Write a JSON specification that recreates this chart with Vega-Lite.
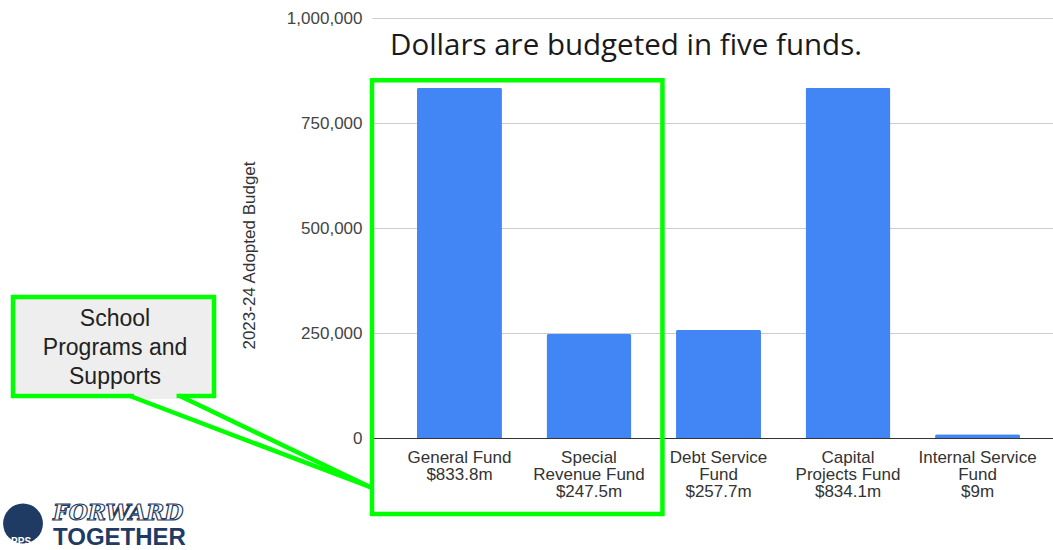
{
  "$schema": "https://vega.github.io/schema/vega-lite/v6.json",
  "width": 681,
  "height": 420,
  "autosize": {"type": "none"},
  "padding": {"left": 372, "top": 18, "right": 0, "bottom": 112},
  "background": "#ffffff",
  "config": {"view": {"stroke": null}},
  "title": {
    "text": "Dollars are budgeted in five funds.",
    "font": "Open Sans",
    "fontSize": 29.5,
    "fontWeight": "normal",
    "color": "#1a1a1a",
    "anchor": "start",
    "frame": "group",
    "orient": "top",
    "baseline": "alphabetic",
    "offset": 0,
    "dx": 18,
    "dy": 75
  },
  "datasets": {
    "funds": [
      {"fund": "General Fund|$833.8m", "budget": 833800},
      {"fund": "Special|Revenue Fund|$247.5m", "budget": 247500},
      {"fund": "Debt Service|Fund|$257.7m", "budget": 257700},
      {"fund": "Capital|Projects Fund|$834.1m", "budget": 834100},
      {"fund": "Internal Service|Fund|$9m", "budget": 9000}
    ],
    "note": [
      {
        "anchor": "General Fund|$833.8m",
        "highlightTop": 852000,
        "highlightBottom": -181000,
        "calloutTop": 335700,
        "calloutBottom": 100000,
        "tailTip": -116700,
        "calloutText": "School|Programs and|Supports",
        "calloutLine": 266700,
        "logoCenter": -203600,
        "logoLine1": -195200,
        "logoLine2": -254800,
        "ppsLine": -254800,
        "logoText1": "FORWARD",
        "logoText2": "TOGETHER",
        "ppsText": "PPS"
      }
    ]
  },
  "layer": [
    {
      "data": {"name": "funds"},
      "mark": {"type": "bar", "color": "#4285f4", "cornerRadiusTopLeft": 2, "cornerRadiusTopRight": 2},
      "encoding": {
        "x": {
          "field": "fund",
          "type": "nominal",
          "sort": null,
          "title": null,
          "scale": {
            "domain": ["General Fund|$833.8m", "Special|Revenue Fund|$247.5m", "Debt Service|Fund|$257.7m", "Capital|Projects Fund|$834.1m", "Internal Service|Fund|$9m"],
            "paddingInner": 0.344,
            "paddingOuter": 0.301,
            "align": 0.577
          },
          "axis": {
            "title": null,
            "labelAngle": 0,
            "labelExpr": "split(datum.label, '|')",
            "labelFont": "Liberation Sans",
            "labelFontSize": 17,
            "labelColor": "#333333",
            "labelLineHeight": 17,
            "labelPadding": 11,
            "labelLimit": 300,
            "labelOverlap": false,
            "ticks": false,
            "tickSize": 0,
            "domainColor": "#333333",
            "domainWidth": 1,
            "grid": false
          }
        },
        "y": {
          "field": "budget",
          "type": "quantitative",
          "title": "2023-24 Adopted Budget",
          "scale": {"domain": [0, 1000000], "nice": false},
          "axis": {
            "title": "2023-24 Adopted Budget",
            "values": [0, 250000, 500000, 750000, 1000000],
            "format": ",d",
            "ticks": false,
            "tickSize": 0,
            "domain": false,
            "labelPadding": 10,
            "labelFont": "Liberation Sans",
            "labelFontSize": 17,
            "labelColor": "#444444",
            "gridColor": "#cccccc",
            "gridWidth": 1,
            "titleFont": "Liberation Sans",
            "titleFontSize": 17,
            "titleFontWeight": "normal",
            "titleColor": "#333333",
            "titleAngle": -90,
            "titleAlign": "center",
            "titleBaseline": "bottom",
            "titleX": -114,
            "titleY": 237
          }
        }
      }
    },
    {
      "data": {"name": "note"},
      "mark": {"type": "rect", "filled": false, "color": "#00ff00", "strokeWidth": 4.5},
      "encoding": {
        "x": {"field": "anchor", "type": "nominal", "title": null, "bandPosition": -0.5296},
        "x2": {"field": "anchor", "bandPosition": 2.889},
        "y": {"field": "highlightTop", "type": "quantitative", "title": "2023-24 Adopted Budget"},
        "y2": {"field": "highlightBottom"}
      }
    },
    {
      "data": {"name": "note"},
      "mark": {"type": "rect", "fill": "#eeeeee", "stroke": "#00ff00", "strokeWidth": 4.5},
      "encoding": {
        "x": {"field": "anchor", "type": "nominal", "title": null, "bandPosition": -4.755},
        "x2": {"field": "anchor", "bandPosition": -2.389},
        "y": {"field": "calloutTop", "type": "quantitative", "title": "2023-24 Adopted Budget"},
        "y2": {"field": "calloutBottom"}
      }
    },
    {
      "data": {"name": "note"},
      "mark": {"type": "rule", "color": "#eeeeee", "strokeWidth": 6},
      "encoding": {
        "x": {"field": "anchor", "type": "nominal", "title": null, "bandPosition": -3.33},
        "x2": {"field": "anchor", "bandPosition": -2.83},
        "y": {"field": "calloutBottom", "type": "quantitative", "title": "2023-24 Adopted Budget"}
      }
    },
    {
      "data": {"name": "note"},
      "mark": {"type": "rule", "color": "#00ff00", "strokeWidth": 4.5, "strokeCap": "round"},
      "encoding": {
        "x": {"field": "anchor", "type": "nominal", "title": null, "bandPosition": -3.378},
        "x2": {"field": "anchor", "bandPosition": -0.553},
        "y": {"field": "calloutBottom", "type": "quantitative", "title": "2023-24 Adopted Budget"},
        "y2": {"field": "tailTip"}
      }
    },
    {
      "data": {"name": "note"},
      "mark": {"type": "rule", "color": "#00ff00", "strokeWidth": 4.5, "strokeCap": "round"},
      "encoding": {
        "x": {"field": "anchor", "type": "nominal", "title": null, "bandPosition": -2.789},
        "x2": {"field": "anchor", "bandPosition": -0.553},
        "y": {"field": "calloutBottom", "type": "quantitative", "title": "2023-24 Adopted Budget"},
        "y2": {"field": "tailTip"}
      }
    },
    {
      "data": {"name": "note"},
      "mark": {"type": "text", "font": "Liberation Sans", "fontSize": 23, "lineBreak": "|", "lineHeight": 29, "align": "center", "baseline": "alphabetic", "color": "#222222"},
      "encoding": {
        "x": {"field": "anchor", "type": "nominal", "title": null, "bandPosition": -3.554},
        "y": {"field": "calloutLine", "type": "quantitative", "title": "2023-24 Adopted Budget"},
        "text": {"field": "calloutText"}
      }
    },
    {
      "data": {"name": "note"},
      "mark": {"type": "point", "shape": "circle", "filled": true, "color": "#1f3b63", "size": 1590, "opacity": 1},
      "encoding": {
        "x": {"field": "anchor", "type": "nominal", "title": null, "bandPosition": -4.637},
        "y": {"field": "logoCenter", "type": "quantitative", "title": "2023-24 Adopted Budget"}
      }
    },
    {
      "data": {"name": "note"},
      "mark": {"type": "text", "font": "Liberation Sans", "fontSize": 10, "fontWeight": "bold", "align": "center", "baseline": "alphabetic", "color": "#ffffff"},
      "encoding": {
        "x": {"field": "anchor", "type": "nominal", "title": null, "bandPosition": -4.66},
        "y": {"field": "ppsLine", "type": "quantitative", "title": "2023-24 Adopted Budget"},
        "text": {"field": "ppsText"}
      }
    },
    {
      "data": {"name": "note"},
      "mark": {"type": "text", "font": "DejaVu Serif", "fontSize": 22, "fontStyle": "italic", "fontWeight": "bold", "align": "left", "baseline": "alphabetic", "fill": "#ffffff", "stroke": "#1f3b63", "strokeWidth": 1.2},
      "encoding": {
        "x": {"field": "anchor", "type": "nominal", "title": null, "bandPosition": -4.284},
        "y": {"field": "logoLine1", "type": "quantitative", "title": "2023-24 Adopted Budget"},
        "text": {"field": "logoText1"}
      }
    },
    {
      "data": {"name": "note"},
      "mark": {"type": "text", "font": "Liberation Sans", "fontSize": 24, "fontWeight": "bold", "align": "left", "baseline": "alphabetic", "color": "#1f3b63"},
      "encoding": {
        "x": {"field": "anchor", "type": "nominal", "title": null, "bandPosition": -4.284},
        "y": {"field": "logoLine2", "type": "quantitative", "title": "2023-24 Adopted Budget"},
        "text": {"field": "logoText2"}
      }
    }
  ]
}
